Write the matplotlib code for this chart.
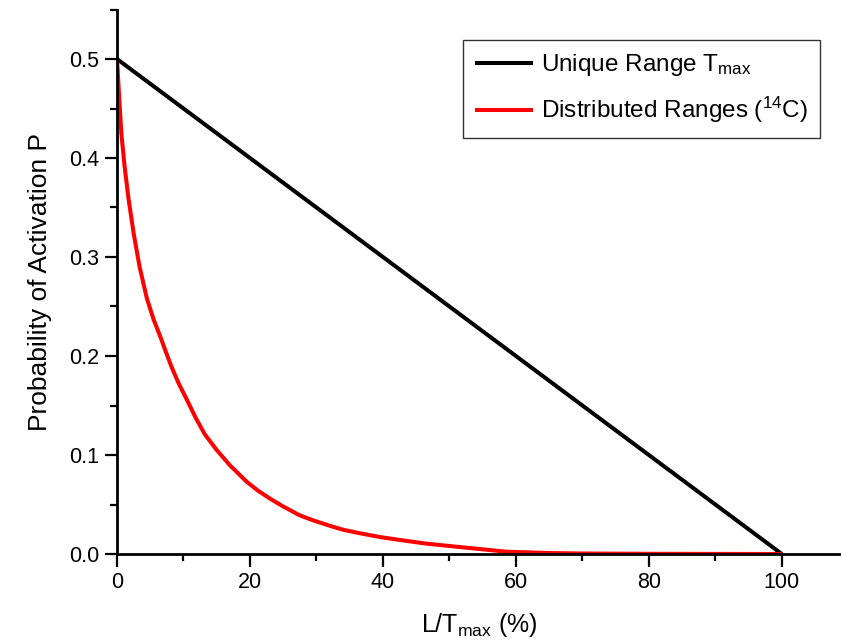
import matplotlib
matplotlib.use("Agg")
import matplotlib.pyplot as plt
from matplotlib.ticker import MultipleLocator

plt.rcParams['font.family'] = ['Liberation Sans', 'DejaVu Sans']
plt.rcParams['mathtext.fontset'] = 'custom'
plt.rcParams['mathtext.rm'] = 'Liberation Sans'
plt.rcParams['mathtext.it'] = 'Liberation Sans:italic'

# Unique range T_max (linear)
unique_x = [0, 100]
unique_y = [0.5, 0.0]

# Distributed ranges (14C)
dist_x = [0, 0.35, 0.65, 1.15, 1.75, 2.5, 3.4, 4.5, 5.5, 6.6, 7.3, 8.2, 9.3,
          10.5, 11.8, 13.2, 15.0, 17.0, 19.5, 21.2, 23.0, 25.0, 27.5, 29.5,
          32, 34, 36.5, 39.5, 42.6, 46.5, 51, 58.6, 65, 70, 80, 90, 100]
dist_y = [0.5, 0.459, 0.425, 0.391, 0.358, 0.324, 0.290, 0.258, 0.237, 0.218,
          0.205, 0.189, 0.172, 0.156, 0.138, 0.121, 0.105, 0.0895, 0.073,
          0.064, 0.056, 0.048, 0.039, 0.034, 0.0285, 0.0245, 0.021, 0.0172,
          0.0141, 0.0105, 0.0074, 0.0023, 0.0010, 0.0005, 0.0002, 0.0001, 0.0]

labels = ["Unique Range T$_{\\mathrm{max}}$", "Distributed Ranges ($^{\\mathrm{14}}$C)"]

W, H = 841, 644
fig = plt.figure(figsize=(W / 100, H / 100), dpi=100)
ax = fig.add_axes([117 / W, 1 - 554 / H, (841 - 117) / W, (554 - 9.5) / H])

ax.plot(unique_x, unique_y, color='black', lw=2.9, label=labels[0],
        solid_capstyle='butt', solid_joinstyle='round')
ax.plot(dist_x, dist_y, color='#ff0000', lw=2.9, label=labels[1],
        solid_capstyle='butt', solid_joinstyle='round')

ax.set_xlim(0, 108.9)
ax.set_ylim(0, 0.55)
ax.xaxis.set_major_locator(MultipleLocator(20))
ax.xaxis.set_minor_locator(MultipleLocator(10))
ax.yaxis.set_major_locator(MultipleLocator(0.1))
ax.yaxis.set_minor_locator(MultipleLocator(0.05))
ax.yaxis.set_major_formatter(plt.FuncFormatter(lambda v, p: f"{v:.1f}"))

for s in ['top', 'right']:
    ax.spines[s].set_visible(False)
for s in ['left', 'bottom']:
    ax.spines[s].set_linewidth(2.0)

ax.tick_params(which='major', direction='out', length=9, width=1.6, labelsize=15.5, pad=4)
ax.tick_params(which='minor', direction='out', length=5, width=1.6)

ax.set_xlabel("L/T$_{\\mathrm{max}}$ (%)", fontsize=18, labelpad=13)
ax.set_ylabel("Probability of Activation P", fontsize=19, labelpad=12)

leg = ax.legend(loc='upper left', bbox_to_anchor=(463 / W, 1 - 40 / H),
                bbox_transform=fig.transFigure, borderaxespad=0,
                fontsize=17.5, frameon=True, fancybox=False, edgecolor='black',
                handlelength=2.4, handletextpad=0.3, labelspacing=0.7,
                borderpad=0.5)
leg.get_frame().set_linewidth(1.0)

fig.savefig("out.png", dpi=100)
